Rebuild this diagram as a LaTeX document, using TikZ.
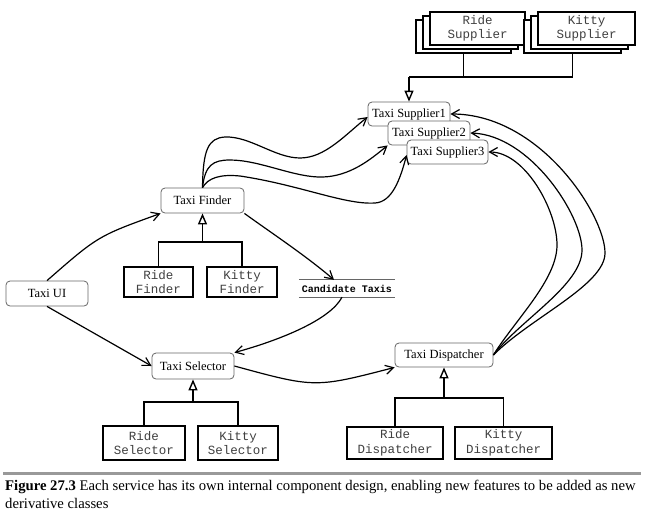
\documentclass[tikz,border=0pt]{standalone}
\usepackage{fontspec}
\setmainfont{Liberation Serif}
\newfontfamily\monof{Liberation Mono}
\usetikzlibrary{arrows.meta,calc}
\begin{document}
\begin{tikzpicture}[x=1pt,y=-1pt,
 tx/.style={draw=black!60, line width=0.8pt, rounded corners=4pt, fill=white, inner sep=0pt, font=\fontsize{12.5}{14}\selectfont, text=black},
 mb/.style={draw=black, line width=1.4pt, fill=white, inner sep=0pt, align=center, font=\monof\fontsize{12.5}{14.5}\selectfont, text=black!75},
 conn/.style={line width=1.2pt, -{Straight Barb[length=8pt,width=9pt,line width=1.2pt]}},
 inh/.style={line width=1.4pt},
 inhtip/.style={line width=1.4pt, -{Triangle[open,length=11pt,width=9pt,fill=white]}},
]
\useasboundingbox (0,0) rectangle (647,517);

% supplier stacks
\node[mb, minimum width=95pt, minimum height=33pt] (rsB) at (463.5,36.5) {};
\node[mb, minimum width=95pt, minimum height=33pt] (rsM) at (470.5,32.5) {};
\node[mb, minimum width=95pt, minimum height=33pt] (rsF) at (477.5,28.5) {Ride\\Supplier};
\node[mb, minimum width=97pt, minimum height=33pt] (ksB) at (572.5,36.5) {};
\node[mb, minimum width=97pt, minimum height=33pt] (ksM) at (579.5,32.5) {};
\node[mb, minimum width=97pt, minimum height=33pt] (ksF) at (586.5,28.5) {Kitty\\Supplier};

% taxi suppliers
\node[tx, minimum width=82pt, minimum height=24pt] (s1) at (409,114) {Taxi Supplier1};
\node[tx, minimum width=82pt, minimum height=24pt] (s2) at (429,133) {Taxi Supplier2};
\node[tx, minimum width=81pt, minimum height=24pt] (s3) at (447.5,152) {Taxi Supplier3};

% finder
\node[tx, minimum width=83pt, minimum height=25pt] (finder) at (202.5,200.5) {Taxi Finder};
\node[mb, minimum width=69pt, minimum height=30pt] (rf) at (158.5,282) {Ride\\Finder};
\node[mb, minimum width=70pt, minimum height=30pt] (kf) at (242,282) {Kitty\\Finder};

% UI
\node[tx, minimum width=82pt, minimum height=25pt] (ui) at (47,293.5) {Taxi UI};

% candidate taxis
\node[font=\monof\bfseries\fontsize{10}{12}\selectfont, inner sep=0pt, minimum width=96pt, minimum height=17pt] (cand) at (347,288.5) {Candidate Taxis};
\draw[line width=0.8pt, black!60] (cand.north west) -- (cand.north east);
\draw[line width=0.8pt, black!60] (cand.south west) -- (cand.south east);

% selector
\node[tx, minimum width=82pt, minimum height=26pt] (sel) at (193,366) {Taxi Selector};
\node[mb, minimum width=82pt, minimum height=34pt] (rsel) at (144,443) {Ride\\Selector};
\node[mb, minimum width=80pt, minimum height=34pt] (ksel) at (238,443) {Kitty\\Selector};

% dispatcher
\node[tx, minimum width=98pt, minimum height=24pt] (disp) at (444,355) {Taxi Dispatcher};
\node[mb, minimum width=96pt, minimum height=32pt] (rdisp) at (395,443) {Ride\\Dispatcher};
\node[mb, minimum width=97pt, minimum height=32pt] (kdisp) at (503.5,443) {Kitty\\Dispatcher};

% inheritance
\coordinate (jS) at (409,77);
\draw[inh] (rsB.south) |- (jS);
\draw[inh] (ksB.south) |- (jS);
\draw[inhtip] (jS) -- (s1.north);

\coordinate (jF) at (202.5,242);
\draw[inh] (rf.north) |- (jF) -| (kf.north);
\draw[inhtip] (jF) -- (finder.south);

\coordinate (jSel) at (193,402);
\draw[inh] (rsel.north) |- (jSel) -| (ksel.north);
\draw[inhtip] (jSel) -- (sel.south);

\coordinate (jD) at (444,398);
\draw[inh] (rdisp.north) |- (jD) -| (kdisp.north);
\draw[inhtip] (jD) -- (disp.south);

% connectors
\draw[conn] (ui.north) .. controls (98,236) .. (finder.south west);
\draw[conn] (ui.south) -- (sel.west);
\draw[conn] (finder.south east) .. controls (270,232) and (305,255) .. ([xshift=-13pt]cand.north);
\draw[conn] ([xshift=-5pt]cand.south) .. controls (330,320) and (280,340) .. (sel.north east);
\draw[conn] (sel.east) .. controls (315,388) .. (disp.south west);

% finder -> suppliers
\draw[conn] (finder.north) .. controls (203,150) and (208,138) .. (225,137)
  .. controls (250,136) and (275,158) .. (300,158)
  .. controls (325,158) and (345,135) .. ($(s1.west)+(0,3)$);
\draw[conn] (finder.north) .. controls (205,165) and (213,160) .. (230,160)
  .. controls (260,160) and (295,178) .. (323,177)
  .. controls (350,176) and (370,160) .. (s2.south west);
\draw[conn] (finder.north) .. controls (208,178) and (220,174) .. (240,176)
  .. controls (300,185) and (345,205) .. (375,203)
  .. controls (392,202) and (400,180) .. ($(s3.west)+(0,3)$);

% dispatcher -> suppliers
\draw[conn] (disp.east) .. controls (530,318) and (605,285) .. (605,253)
  .. controls (605,215) and (540,114) .. (s1.east);
\draw[conn] (disp.east) .. controls (520,320) and (582,285) .. (582,250)
  .. controls (582,215) and (530,135) .. (s2.east);
\draw[conn] (disp.east) .. controls (515,320) and (557,280) .. (557,245)
  .. controls (557,210) and (525,152) .. (s3.east);

% caption
\fill[black!40] (3,472) rectangle (641,475);
\node[anchor=north west, align=left, inner sep=0pt, font=\fontsize{14.7}{18}\selectfont] (cap) at (5,480)
  {\textbf{Figure 27.3} Each service has its own internal component design, enabling new features to be added as new\\derivative classes};
\end{tikzpicture}
\end{document}
